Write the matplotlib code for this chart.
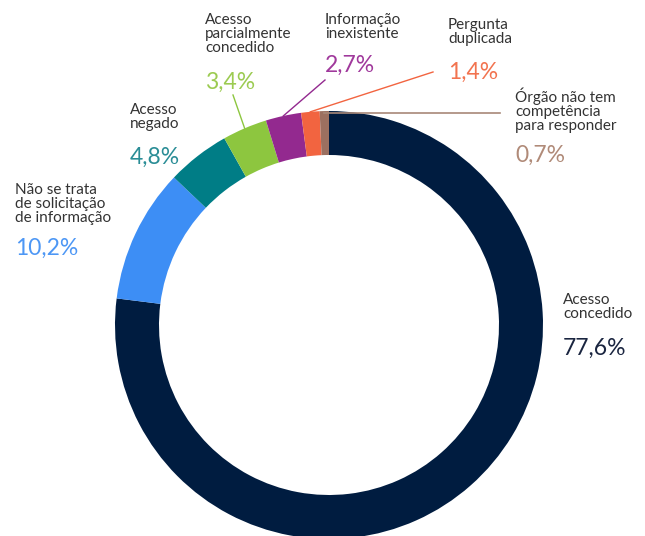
import numpy as np
import matplotlib
matplotlib.use("Agg")
import matplotlib.pyplot as plt

# data
labels = ["Acesso\nconcedido", "Não se trata\nde solicitação\nde informação", "Acesso\nnegado",
          "Acesso\nparcialmente\nconcedido", "Informação\ninexistente", "Pergunta\nduplicada",
          "Órgão não tem\ncompetência\npara responder"]
values = [77.6, 10.2, 4.8, 3.4, 2.7, 1.4, 0.7]
pct_text = ["77,6%", "10,2%", "4,8%", "3,4%", "2,7%", "1,4%", "0,7%"]
colors = ["#001c40", "#3d8ef5", "#007d86", "#8dc63f", "#93298f", "#f26440", "#9c7060"]
pct_colors = ["#1a2540", "#4d97f5", "#2a8d96", "#9ccb52", "#a0399c", "#f2734f", "#b08a78"]

W, H = 645, 536
plt.rcParams["font.family"] = ["Lato", "DejaVu Sans"]

fig = plt.figure(figsize=(W / 100, H / 100), dpi=100)
ax = fig.add_axes([0, 0, 1, 1])

cx, cy, R = 329, H - 325, 214
wedges, _ = ax.pie(values, colors=colors, startangle=90, counterclock=False,
                   radius=R, center=(cx, cy), frame=True,
                   wedgeprops=dict(width=44, edgecolor="none"))
ax.set_xlim(0, W)
ax.set_ylim(0, H)
ax.set_aspect("auto")
ax.axis("off")


def edge_point(w):
    ang = np.deg2rad((w.theta1 + w.theta2) / 2)
    return cx + R * np.cos(ang), cy + R * np.sin(ang)


# label block centres (x left, y from top) -- layout only
name_pos = [(563, 307), (15, 204), (130, 117), (205, 34), (325, 27), (448, 32), (515, 110)]
pct_pos = [(563, 348), (15, 248), (130, 157), (205, 82), (325, 65), (448, 72), (515, 155)]

for i in range(len(values)):
    nx, ny = name_pos[i]
    ax.text(nx, H - ny, labels[i], ha="left", va="center", fontsize=11,
            color="#333333", linespacing=0.98)
    px, py = pct_pos[i]
    ax.text(px, H - py, pct_text[i], ha="left", va="center", fontsize=16.5,
            color=pct_colors[i])

# leader lines
line_ends = {3: (233, 95), 4: (325, 80), 5: (433, 72)}
for i, (ex, ey) in line_ends.items():
    sx, sy = edge_point(wedges[i])
    ax.plot([sx, ex], [sy, H - ey], color=colors[i], lw=1.0)
sx, sy = edge_point(wedges[6])
ax.plot([sx, 500], [sy - 2, sy - 2], color="#a88878", lw=1.2)

fig.savefig("out.png", dpi=100)
